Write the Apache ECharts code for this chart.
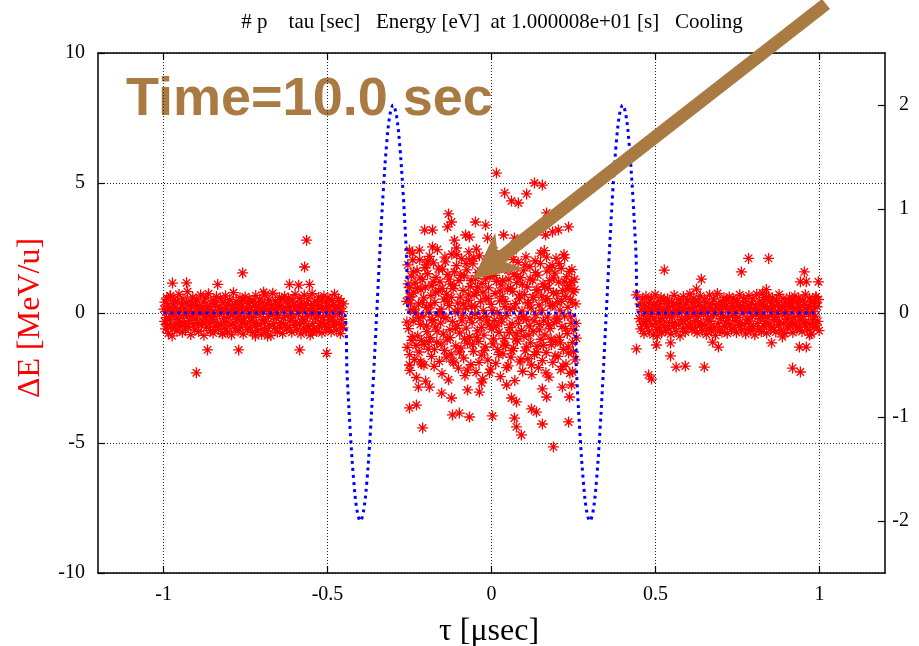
<!DOCTYPE html>
<html>
<head>
<meta charset="utf-8">
<script src="https://cdn.jsdelivr.net/npm/echarts@6/dist/echarts.min.js"></script>
<style>html,body{margin:0;padding:0;background:#fff;}#chart{width:919px;height:646px;}</style>
</head>
<body>
<div id="chart"></div>
<script>
// ---- tick labels ----
const xTicks = [-1, -0.5, 0, 0.5, 1];
const yLeftTicks = [-10, -5, 0, 5, 10];
const yRightTicks = [-2, -1, 0, 1, 2];

// ---- particles outside the RF pulses (tau [usec], dE [MeV/u]) ----
const leftBand = [
[-0.999,0.15],[-0.997,-0.32],[-0.996,0.42],[-0.994,-0.61],[-0.993,0.05],[-0.991,-0.18],[-0.990,0.58],[-0.988,-0.45],[-0.987,0.27],[-0.985,-0.78],
[-0.983,0.11],[-0.981,-0.26],[-0.979,0.66],[-0.978,-0.53],[-0.976,-0.02],[-0.974,-0.88],[-0.972,0.36],[-0.970,-0.12],[-0.969,0.49],[-0.967,-0.57],
[-0.965,0.21],[-0.963,-0.39],[-0.961,0.03],[-0.959,-0.69],[-0.957,0.44],[-0.955,-0.21],[-0.953,0.72],[-0.951,-0.48],[-0.949,0.09],[-0.947,-0.33],
[-0.945,0.31],[-0.943,-0.74],[-0.941,0.54],[-0.939,-0.07],[-0.937,-0.41],[-0.935,0.18],[-0.933,-0.62],[-0.931,0.39],[-0.929,-0.15],[-0.927,0.82],
[-0.925,-0.52],[-0.923,0.06],[-0.921,-0.29],[-0.919,0.47],[-0.917,-0.83],[-0.915,0.24],[-0.913,-0.11],[-0.911,0.61],[-0.909,-0.44],[-0.907,0.01],
[-0.905,-0.66],[-0.903,0.33],[-0.901,-0.23],[-0.899,0.52],[-0.897,-0.37],[-0.895,0.12],[-0.893,-0.71],[-0.891,0.28],[-0.889,-0.05],[-0.887,0.69],
[-0.885,-0.48],[-0.883,0.16],[-0.881,-0.31],[-0.879,0.43],[-0.877,-0.86],[-0.875,0.07],[-0.873,-0.19],[-0.871,0.58],[-0.869,-0.55],[-0.867,0.25],
[-0.865,-0.09],[-0.863,0.74],[-0.861,-0.42],[-0.859,0.14],[-0.857,-0.68],[-0.855,0.38],[-0.853,-0.26],[-0.851,0.02],[-0.849,-0.77],[-0.847,0.49],
[-0.845,-0.14],[-0.843,0.31],[-0.841,-0.51],[-0.839,0.63],[-0.837,-0.36],[-0.835,0.09],[-0.833,-0.63],[-0.831,0.22],[-0.829,-0.03],[-0.827,0.57],
[-0.825,-0.46],[-0.823,0.13],[-0.821,-0.79],[-0.819,0.41],[-0.817,-0.22],[-0.815,0.04],[-0.813,-0.58],[-0.811,0.66],[-0.809,-0.34],[-0.807,0.19],
[-0.805,-0.72],[-0.803,0.35],[-0.801,-0.16],[-0.799,0.51],[-0.797,-0.47],[-0.795,0.08],[-0.793,-0.84],[-0.791,0.27],[-0.789,-0.06],[-0.787,0.78],
[-0.785,-0.39],[-0.783,0.17],[-0.781,-0.61],[-0.779,0.44],[-0.777,-0.24],[-0.775,0.03],[-0.773,-0.69],[-0.771,0.32],[-0.769,-0.13],[-0.767,0.59],
[-0.765,-0.53],[-0.763,0.23],[-0.761,-0.35],[-0.759,0.48],[-0.757,-0.81],[-0.755,0.1],[-0.753,-0.2],[-0.751,0.62],[-0.749,-0.43],[-0.747,0.15],
[-0.745,-0.64],[-0.743,0.37],[-0.741,-0.08],[-0.739,0.55],[-0.737,-0.57],[-0.735,0.21],[-0.733,-0.3],[-0.731,0.05],[-0.729,-0.75],[-0.727,0.45],
[-0.725,-0.17],[-0.723,0.29],[-0.721,-0.49],[-0.719,0.67],[-0.717,-0.38],[-0.715,0.11],[-0.713,-0.67],[-0.711,0.26],[-0.709,-0.04],[-0.707,0.53],
[-0.705,-0.45],[-0.703,0.14],[-0.701,-0.82],[-0.699,0.4],[-0.697,-0.25],[-0.695,0.06],[-0.693,-0.6],[-0.691,0.7],[-0.689,-0.33],[-0.687,0.2],
[-0.685,-0.7],[-0.683,0.34],[-0.681,-0.14],[-0.679,0.5],[-0.677,-0.5],[-0.675,0.09],[-0.673,-0.87],[-0.671,0.3],[-0.669,-0.07],[-0.667,0.76],
[-0.665,-0.41],[-0.663,0.18],[-0.661,-0.59],[-0.659,0.46],[-0.657,-0.21],[-0.655,0.02],[-0.653,-0.73],[-0.651,0.33],[-0.649,-0.1],[-0.647,0.6],
[-0.645,-0.54],[-0.643,0.24],[-0.641,-0.37],[-0.639,0.52],[-0.637,-0.78],[-0.635,0.12],[-0.633,-0.18],[-0.631,0.64],[-0.629,-0.46],[-0.627,0.16],
[-0.625,-0.62],[-0.623,0.39],[-0.621,-0.09],[-0.619,0.57],[-0.617,-0.56],[-0.615,0.22],[-0.613,-0.28],[-0.611,0.07],[-0.609,-0.74],[-0.607,0.47],
[-0.605,-0.15],[-0.603,0.31],[-0.601,-0.47],[-0.599,0.71],[-0.597,-0.36],[-0.595,0.13],[-0.593,-0.65],[-0.591,0.28],[-0.589,-0.02],[-0.587,0.56],
[-0.585,-0.43],[-0.583,0.19],[-0.581,-0.8],[-0.579,0.42],[-0.577,-0.23],[-0.575,0.08],[-0.573,-0.58],[-0.571,0.68],[-0.569,-0.31],[-0.567,0.21],
[-0.565,-0.69],[-0.563,0.36],[-0.561,-0.12],[-0.559,0.54],[-0.557,-0.52],[-0.555,0.1],[-0.553,-0.85],[-0.551,0.29],[-0.549,-0.05],[-0.547,0.74],
[-0.545,-0.4],[-0.543,0.17],[-0.541,-0.6],[-0.539,0.45],[-0.537,-0.2],[-0.535,0.04],[-0.533,-0.71],[-0.531,0.34],[-0.529,-0.11],[-0.527,0.61],
[-0.525,-0.5],[-0.523,0.25],[-0.521,-0.34],[-0.519,0.5],[-0.517,-0.76],[-0.515,0.14],[-0.513,-0.17],[-0.511,0.65],[-0.509,-0.44],[-0.507,0.18],
[-0.505,-0.63],[-0.503,0.4],[-0.501,-0.08],[-0.499,0.58],[-0.497,-0.55],[-0.495,0.23],[-0.493,-0.27],[-0.491,0.06],[-0.489,-0.72],[-0.487,0.48],
[-0.485,-0.16],[-0.483,0.32],[-0.481,-0.45],[-0.479,0.72],[-0.477,-0.37],[-0.475,0.12],[-0.473,-0.66],[-0.471,0.27],[-0.469,-0.03],[-0.467,0.55],
[-0.465,-0.42],[-0.463,0.2],[-0.461,-0.79],[-0.459,0.43],[-0.457,-0.24],[-0.455,0.05],[-0.453,-0.57],[-0.451,0.35]
];
const leftOutliers = [
[-0.564,2.8],[-0.570,1.77],[-0.759,1.54],[-0.973,1.15],[-0.93,1.16],[-0.835,1.1],[-0.616,1.1],[-0.588,1.07],[-0.555,1.1],
[-0.695,0.8],[-0.98,0.65],[-0.866,-1.42],[-0.771,-1.42],[-0.585,-1.42],[-0.503,-1.55],[-0.9,-2.3],[-0.546,-0.73],
[-0.457,-0.46],[-0.683,-0.88],[-0.72,-0.88],[-0.82,-0.8]
];
const rightBand = [
[0.451,-0.22],[0.453,0.35],[0.455,-0.61],[0.457,0.12],[0.459,-0.44],[0.461,0.53],[0.463,-0.08],[0.465,-0.79],[0.467,0.27],[0.469,-0.33],
[0.471,0.64],[0.473,-0.52],[0.475,0.04],[0.477,-0.27],[0.479,0.41],[0.481,-0.7],[0.483,0.18],[0.485,-0.13],[0.487,0.57],[0.489,-0.46],
[0.491,0.09],[0.493,-0.84],[0.495,0.32],[0.497,-0.19],[0.499,0.7],[0.501,-0.39],[0.503,0.15],[0.505,-0.63],[0.507,0.44],[0.509,-0.05],
[0.511,-0.55],[0.513,0.24],[0.515,-0.31],[0.517,0.6],[0.519,-0.76],[0.521,0.07],[0.523,-0.21],[0.525,0.49],[0.527,-0.48],[0.529,0.13],
[0.531,-0.67],[0.533,0.37],[0.535,-0.1],[0.537,0.55],[0.539,-0.58],[0.541,0.2],[0.543,-0.36],[0.545,0.02],[0.547,-0.81],[0.549,0.42],
[0.551,-0.16],[0.553,0.29],[0.555,-0.5],[0.557,0.68],[0.559,-0.4],[0.561,0.1],[0.563,-0.71],[0.565,0.31],[0.567,-0.03],[0.569,0.52],
[0.571,-0.45],[0.573,0.16],[0.575,-0.88],[0.577,0.39],[0.579,-0.25],[0.581,0.06],[0.583,-0.6],[0.585,0.63],[0.587,-0.34],[0.589,0.22],
[0.591,-0.73],[0.593,0.34],[0.595,-0.12],[0.597,0.5],[0.599,-0.53],[0.601,0.11],[0.603,-0.2],[0.605,0.73],[0.607,-0.43],[0.609,0.17],
[0.611,-0.65],[0.613,0.4],[0.615,-0.06],[0.617,0.56],[0.619,-0.56],[0.621,0.23],[0.623,-0.29],[0.625,0.03],[0.627,-0.77],[0.629,0.46],
[0.631,-0.14],[0.633,0.3],[0.635,-0.49],[0.637,0.66],[0.639,-0.38],[0.641,0.12],[0.643,-0.68],[0.645,0.25],[0.647,-0.02],[0.649,0.54],
[0.651,-0.47],[0.653,0.15],[0.655,-0.82],[0.657,0.41],[0.659,-0.23],[0.661,0.05],[0.663,-0.59],[0.665,0.69],[0.667,-0.32],[0.669,0.2],
[0.671,-0.7],[0.673,0.36],[0.675,-0.11],[0.677,0.53],[0.679,-0.54],[0.681,0.1],[0.683,-0.86],[0.685,0.28],[0.687,-0.04],[0.689,0.75],
[0.691,-0.41],[0.693,0.18],[0.695,-0.62],[0.697,0.44],[0.699,-0.22],[0.701,0.03],[0.703,-0.74],[0.705,0.33],[0.707,-0.13],[0.709,0.59],
[0.711,-0.51],[0.713,0.24],[0.715,-0.35],[0.717,0.49],[0.719,-0.78],[0.721,0.14],[0.723,-0.18],[0.725,0.62],[0.727,-0.45],[0.729,0.17],
[0.731,-0.64],[0.733,0.38],[0.735,-0.09],[0.737,0.57],[0.739,-0.57],[0.741,0.21],[0.743,-0.28],[0.745,0.08],[0.747,-0.75],[0.749,0.47],
[0.751,-0.17],[0.753,0.31],[0.755,-0.48],[0.757,0.7],[0.759,-0.37],[0.761,0.13],[0.763,-0.66],[0.765,0.27],[0.767,-0.01],[0.769,0.56],
[0.771,-0.44],[0.773,0.19],[0.775,-0.8],[0.777,0.43],[0.779,-0.24],[0.781,0.07],[0.783,-0.58],[0.785,0.67],[0.787,-0.31],[0.789,0.22],
[0.791,-0.69],[0.793,0.35],[0.795,-0.12],[0.797,0.54],[0.799,-0.52],[0.801,0.11],[0.803,-0.84],[0.805,0.29],[0.807,-0.06],[0.809,0.72],
[0.811,-0.4],[0.813,0.16],[0.815,-0.61],[0.817,0.45],[0.819,-0.21],[0.821,0.04],[0.823,-0.72],[0.825,0.34],[0.827,-0.1],[0.829,0.6],
[0.831,-0.5],[0.833,0.25],[0.835,-0.33],[0.837,0.51],[0.839,-0.77],[0.841,0.15],[0.843,-0.16],[0.845,0.64],[0.847,-0.43],[0.849,0.18],
[0.851,-0.63],[0.853,0.39],[0.855,-0.07],[0.857,0.58],[0.859,-0.55],[0.861,0.22],[0.863,-0.26],[0.865,0.06],[0.867,-0.73],[0.869,0.48],
[0.871,-0.15],[0.873,0.32],[0.875,-0.46],[0.877,0.71],[0.879,-0.36],[0.881,0.12],[0.883,-0.67],[0.885,0.26],[0.887,-0.03],[0.889,0.55],
[0.891,-0.42],[0.893,0.2],[0.895,-0.79],[0.897,0.42],[0.899,-0.23],[0.901,0.06],[0.903,-0.57],[0.905,0.36],[0.907,-0.11],[0.909,0.61],
[0.911,-0.49],[0.913,0.23],[0.915,-0.34],[0.917,0.5],[0.919,-0.75],[0.921,0.14],[0.923,-0.19],[0.925,0.65],[0.927,-0.44],[0.929,0.17],
[0.931,-0.62],[0.933,0.4],[0.935,-0.08],[0.937,0.57],[0.939,-0.54],[0.941,0.21],[0.943,-0.27],[0.945,0.07],[0.947,-0.71],[0.949,0.47],
[0.951,-0.14],[0.953,0.33],[0.955,-0.45],[0.957,0.7],[0.959,-0.38],[0.961,0.13],[0.963,-0.65],[0.965,0.28],[0.967,-0.02],[0.969,0.57],
[0.971,-0.43],[0.973,0.19],[0.975,-0.8],[0.977,0.44],[0.979,-0.25],[0.981,0.05],[0.983,-0.56],[0.985,0.37],[0.987,-0.12],[0.989,0.62],
[0.991,-0.47],[0.993,0.24],[0.995,-0.32],[0.997,0.52],[0.999,-0.68]
];
const rightOutliers = [
[0.784,2.1],[0.845,2.1],[0.527,1.65],[0.762,1.58],[0.954,1.58],[0.64,1.3],[0.942,1.2],[0.96,1.2],[0.997,1.2],
[0.625,0.92],[0.838,0.9],[0.827,0.77],[0.442,0.7],[0.99,0.62],[0.912,0.38],[0.442,-1.38],[0.503,-1.23],[0.546,-1.15],
[0.546,-1.65],[0.563,-2.08],[0.591,-2.04],[0.649,-2.08],[0.674,-1.12],[0.692,-1.31],[0.854,-1.15],[0.887,-0.92],
[0.918,-2.12],[0.942,-2.27],[0.939,-1.31],[0.96,-1.31],[0.479,-2.38],[0.488,-2.54],[0.97,-0.85],[0.506,-0.88]
];
// ---- particles inside the bucket ----
const centerCore = [
[-0.259,0.45],[-0.257,-1.32],[-0.255,1.85],[-0.253,-0.6],[-0.251,0.98],[-0.249,-2.21],[-0.247,0.12],[-0.245,1.42],[-0.243,-1.05],[-0.241,2.3],
[-0.239,-0.31],[-0.237,0.77],[-0.235,-1.78],[-0.233,1.16],[-0.231,-0.02],[-0.229,-2.48],[-0.227,1.63],[-0.225,-0.88],[-0.223,0.35],[-0.221,-1.5],
[-0.219,2.05],[-0.217,-0.44],[-0.215,0.9],[-0.213,-1.96],[-0.211,1.28],[-0.209,-0.15],[-0.207,0.58],[-0.205,-1.21],[-0.203,1.74],[-0.201,-2.62],
[-0.199,0.21],[-0.197,-0.72],[-0.195,1.51],[-0.193,-1.39],[-0.191,0.03],[-0.189,2.18],[-0.187,-0.95],[-0.185,0.67],[-0.183,-1.67],[-0.181,1.05],
[-0.179,-0.26],[-0.177,1.93],[-0.175,-2.05],[-0.173,0.41],[-0.171,-0.54],[-0.169,1.37],[-0.167,-1.12],[-0.165,2.44],[-0.163,-0.08],[-0.161,0.84],
[-0.159,-1.86],[-0.157,1.2],[-0.155,-0.39],[-0.153,0.15],[-0.151,-2.33],[-0.149,1.69],[-0.147,-0.81],[-0.145,0.53],[-0.143,-1.44],[-0.141,1.97],
[-0.139,-0.18],[-0.137,0.72],[-0.135,-1.03],[-0.133,1.48],[-0.131,-2.57],[-0.129,0.29],[-0.127,-0.64],[-0.125,1.11],[-0.123,-1.58],[-0.121,2.26],
[-0.119,-0.33],[-0.117,0.94],[-0.115,-1.91],[-0.113,1.58],[-0.111,0.06],[-0.109,-1.27],[-0.107,1.82],[-0.105,-0.48],[-0.103,0.38],[-0.101,-2.12],
[-0.099,1.25],[-0.097,-0.77],[-0.095,0.61],[-0.093,-1.35],[-0.091,2.09],[-0.089,-0.11],[-0.087,0.87],[-0.085,-1.73],[-0.083,1.43],[-0.081,-2.41],
[-0.079,0.18],[-0.077,-0.58],[-0.075,1.66],[-0.073,-1.16],[-0.071,0.49],[-0.069,2.35],[-0.067,-0.92],[-0.065,1.02],[-0.063,-1.99],[-0.061,0.26],
[-0.059,-0.37],[-0.057,1.89],[-0.055,-1.48],[-0.053,0.69],[-0.051,-0.05],[-0.049,1.33],[-0.047,-2.28],[-0.045,0.8],[-0.043,-0.69],[-0.041,1.55],
[-0.039,-1.09],[-0.037,2.2],[-0.035,-0.21],[-0.033,0.44],[-0.031,-1.62],[-0.029,1.14],[-0.027,-2.53],[-0.025,0.09],[-0.023,-0.85],[-0.021,1.76],
[-0.019,-1.3],[-0.017,0.56],[-0.015,-0.13],[-0.013,2.02],[-0.011,-1.81],[-0.009,0.97],[-0.007,-0.46],[-0.005,1.4],[-0.003,-2.16],[-0.001,0.33],
[0.001,-0.62],[0.003,1.59],[0.005,-1.19],[0.007,2.38],[0.009,-0.28],[0.011,0.75],[0.013,-1.94],[0.015,1.22],[0.017,0.02],[0.019,-1.41],
[0.021,1.86],[0.023,-0.74],[0.025,0.47],[0.027,-2.45],[0.029,1.08],[0.031,-0.35],[0.033,0.63],[0.035,-1.57],[0.037,2.13],[0.039,-0.98],
[0.041,0.24],[0.043,-1.25],[0.045,1.71],[0.047,-0.1],[0.049,0.92],[0.051,-2.03],[0.053,1.3],[0.055,-0.56],[0.057,0.14],[0.059,-1.7],
[0.061,2.28],[0.063,-0.42],[0.065,0.83],[0.067,-1.36],[0.069,1.5],[0.071,-2.6],[0.073,0.37],[0.075,-0.8],[0.077,1.17],[0.079,-1.08],
[0.081,1.95],[0.083,-0.19],[0.085,0.54],[0.087,-1.88],[0.089,1.36],[0.091,-0.67],[0.093,0.07],[0.095,-2.24],[0.097,1.62],[0.099,-0.9],
[0.101,0.71],[0.103,-1.46],[0.105,2.16],[0.107,-0.25],[0.109,1.0],[0.111,-1.76],[0.113,0.4],[0.115,-0.5],[0.117,1.78],[0.119,-1.15],
[0.121,0.19],[0.123,-2.37],[0.125,1.27],[0.127,-0.71],[0.129,0.6],[0.131,-1.6],[0.133,2.0],[0.135,-0.07],[0.137,0.88],[0.139,-1.28],
[0.141,1.46],[0.143,-2.1],[0.145,0.31],[0.147,-0.45],[0.149,1.9],[0.151,-1.01],[0.153,0.66],[0.155,-1.83],[0.157,1.12],[0.159,-0.3],
[0.161,2.4],[0.163,-0.84],[0.165,0.5],[0.167,-1.52],[0.169,1.61],[0.171,-0.16],[0.173,0.95],[0.175,-2.47],[0.177,1.24],[0.179,-0.6],
[0.181,0.27],[0.183,-1.22],[0.185,1.81],[0.187,-1.9],[0.189,0.78],[0.191,-0.38],[0.193,1.53],[0.195,-1.1],[0.197,2.1],[0.199,-0.23],
[0.201,0.43],[0.203,-1.67],[0.205,1.19],[0.207,-0.94],[0.209,0.11],[0.211,-2.18],[0.213,1.72],[0.215,-0.52],[0.217,0.86],[0.219,-1.4],
[0.221,2.25],[0.223,-0.12],[0.225,0.64],[0.227,-1.97],[0.229,1.39],[0.231,-0.79],[0.233,0.22],[0.235,-1.54],[0.237,1.06],[0.239,-2.32],
[0.241,0.52],[0.243,-0.4],[0.245,1.67],[0.247,-1.14],[0.249,0.81],[0.251,-0.66],[0.253,1.3],[0.255,-1.8],[0.257,0.35],[0.259,-0.97]
];
const centerCore2 = [
[-0.258,-0.35],[-0.254,1.12],[-0.25,-1.6],[-0.246,0.62],[-0.242,-0.9],[-0.238,1.58],[-0.234,0.15],[-0.23,-1.25],[-0.226,0.95],[-0.222,-0.18],
[-0.218,1.35],[-0.214,-1.05],[-0.21,0.4],[-0.206,-2.0],[-0.202,1.0],[-0.198,-0.5],[-0.194,2.0],[-0.19,-1.1],[-0.186,0.3],[-0.182,-0.3],
[-0.178,1.2],[-0.174,-1.4],[-0.17,0.8],[-0.166,-0.7],[-0.162,1.7],[-0.158,0.05],[-0.154,-1.2],[-0.15,0.95],[-0.146,-0.15],[-0.142,2.15],
[-0.138,-1.7],[-0.134,0.45],[-0.13,1.3],[-0.126,-0.95],[-0.122,0.6],[-0.118,-1.85],[-0.114,1.05],[-0.11,-0.6],[-0.106,2.25],[-0.102,0.12],
[-0.098,-1.5],[-0.094,1.45],[-0.09,-0.3],[-0.086,0.35],[-0.082,-1.0],[-0.078,1.9],[-0.074,-2.2],[-0.07,0.7],[-0.066,-0.2],[-0.062,1.25],
[-0.058,-1.2],[-0.054,2.1],[-0.05,0.25],[-0.046,-0.95],[-0.042,1.0],[-0.038,-1.9],[-0.034,1.6],[-0.03,-0.55],[-0.026,0.8],[-0.022,-1.45],
[-0.018,1.3],[-0.014,-0.3],[-0.01,0.55],[-0.006,-2.3],[-0.002,1.75],[0.002,0.1],[0.006,-1.0],[0.01,1.45],[0.014,-0.5],[0.018,2.2],
[0.022,-1.6],[0.026,0.85],[0.03,-0.2],[0.034,1.25],[0.038,-1.2],[0.042,0.45],[0.046,-2.1],[0.05,1.65],[0.054,-0.75],[0.058,0.95],
[0.062,-1.45],[0.066,2.05],[0.07,0.2],[0.074,-1.0],[0.078,1.4],[0.082,-0.4],[0.086,0.7],[0.09,-1.8],[0.094,1.1],[0.098,-0.15],
[0.102,1.85],[0.106,-1.3],[0.11,0.35],[0.114,-0.85],[0.118,1.3],[0.122,-2.0],[0.126,0.6],[0.13,-0.3],[0.134,1.55],[0.138,-1.5],
[0.142,0.9],[0.146,-0.65],[0.15,2.3],[0.154,0.1],[0.158,-1.25],[0.162,1.0],[0.166,-2.3],[0.17,0.55],[0.174,-0.45],[0.178,1.75],
[0.182,-1.0],[0.186,0.3],[0.19,1.35],[0.194,-1.65],[0.198,0.75],[0.202,-0.2],[0.206,1.9],[0.21,-1.15],[0.214,0.45],[0.218,-2.05],
[0.222,1.2],[0.226,-0.6],[0.23,0.95],[0.234,-1.3],[0.238,1.6],[0.242,-0.15],[0.246,0.4],[0.25,-1.5],[0.254,0.9],[0.258,-0.4]
];
const centerOutliers = [
[0.015,5.38],[0.131,5.0],[0.155,4.92],[0.04,4.62],[0.107,4.58],[0.061,4.31],[0.082,4.23],[-0.131,3.81],[-0.122,3.5],
[0.168,3.85],[-0.049,3.5],[-0.018,3.38],[-0.134,3.31],[-0.204,3.19],[-0.18,3.19],[-0.079,3.0],[-0.067,2.92],[0.235,3.31],
[0.204,3.19],[0.186,3.12],[0.165,3.0],[-0.113,2.8],[-0.18,2.54],[-0.22,2.42],[-0.046,2.46],[-0.012,2.88],[0.037,3.0],
[0.07,2.88],[-0.25,2.42],[-0.24,2.04],[-0.198,1.85],[-0.107,2.5],[-0.067,2.04],[0.168,2.15],[0.223,2.12],[0.244,1.19],
[-0.25,0.62],[-0.247,0.38],
[0.189,-5.15],[0.091,-4.69],[0.076,-4.38],[0.07,-4.04],[0.155,-4.27],[0.235,-4.19],[-0.21,-4.42],[-0.119,-3.92],[-0.098,-3.85],
[-0.067,-4.0],[0.003,-3.96],[-0.25,-3.65],[-0.229,-3.54],[0.122,-3.69],[0.137,-3.81],[0.061,-3.27],[0.076,-3.42],[0.168,-3.23],
[0.155,-2.92],[0.238,-3.23],[0.216,-2.85],[-0.223,-2.85],[-0.189,-2.85],[-0.152,-3.08],[-0.122,-3.27],[-0.073,-2.96],[-0.037,-3.04],
[-0.03,-2.69],[0.046,-2.77],[-0.25,-2.0],[-0.216,-1.88],[0.247,-2.27],[0.244,-2.77]
];

// ---- RF voltage (right axis) ----
const rfTau = [-1, -0.45,-0.44,-0.43,-0.42,-0.41,-0.40,-0.39,-0.38,-0.37,-0.36,-0.35,-0.34,-0.33,-0.32,-0.31,-0.30,-0.29,-0.28,-0.27,-0.26,-0.25,
               0.25,0.26,0.27,0.28,0.29,0.30,0.31,0.32,0.33,0.34,0.35,0.36,0.37,0.38,0.39,0.40,0.41,0.42,0.43,0.44,0.45, 1];
const rfVolt = [0, 0,-0.618,-1.176,-1.618,-1.902,-2,-1.902,-1.618,-1.176,-0.618,0,0.618,1.176,1.618,1.902,2,1.902,1.618,1.176,0.618,0,
                0,-0.618,-1.176,-1.618,-1.902,-2,-1.902,-1.618,-1.176,-0.618,0,0.618,1.176,1.618,1.902,2,1.902,1.618,1.176,0.618,0, 0];

const titleText = '# p    tau [sec]   Energy [eV]  at 1.000008e+01 [s]   Cooling';
const annotText = 'Time=10.0 sec';
const xName = 'τ [μsec]';
const yName = 'ΔE [MeV/u]';

const particles = leftBand.concat(leftOutliers, centerCore, centerCore2, centerOutliers, rightBand, rightOutliers);
const rfData = rfTau.map((t, i) => [t, rfVolt[i]]);

const serif = '"Liberation Serif", "DejaVu Serif", serif';
const brown = '#A97A42';
const asterisk = 'path://M0,5L10,5M5,0L5,10M1.6,1.6L8.4,8.4M1.6,8.4L8.4,1.6';

const chart = echarts.init(document.getElementById('chart'), null, {renderer: 'canvas'});
const dotted = {type: [1, 2], color: '#222', width: 1};
chart.setOption({
  animation: false,
  backgroundColor: '#fff',
  grid: {left: 98, right: 34, top: 53, bottom: 73, containLabel: false},
  xAxis: [{
    type: 'value', min: -1.2, max: 1.2, position: 'bottom',
    axisLine: {show: true, onZero: false, lineStyle: {color: '#000', width: 1.5}},
    axisTick: {show: true, inside: true, length: 7, customValues: xTicks, lineStyle: {color: '#000', width: 1.2}},
    axisLabel: {customValues: xTicks, fontFamily: serif, fontSize: 20, color: '#000', margin: 12},
    splitLine: {show: true, lineStyle: dotted}
  }, {
    type: 'value', min: -1.2, max: 1.2, position: 'top',
    axisLine: {show: true, onZero: false, lineStyle: {color: '#000', width: 1.5}},
    axisTick: {show: true, inside: true, length: 7, customValues: xTicks, lineStyle: {color: '#000', width: 1.2}},
    axisLabel: {show: false},
    splitLine: {show: false}
  }],
  yAxis: [{
    type: 'value', min: -10, max: 10, interval: 5, position: 'left',
    axisLine: {show: true, onZero: false, lineStyle: {color: '#000', width: 1.5}},
    axisTick: {show: true, inside: true, length: 7, lineStyle: {color: '#000', width: 1.2}},
    axisLabel: {fontFamily: serif, fontSize: 20, color: '#000', margin: 13},
    splitLine: {show: true, lineStyle: dotted}
  }, {
    type: 'value', min: -2.5, max: 2.5, position: 'right',
    axisLine: {show: true, onZero: false, lineStyle: {color: '#000', width: 1.5}},
    axisTick: {show: true, inside: true, length: 7, customValues: yRightTicks, lineStyle: {color: '#000', width: 1.2}},
    axisLabel: {customValues: yRightTicks, fontFamily: serif, fontSize: 20, color: '#000', margin: 24, align: 'right'},
    splitLine: {show: false}
  }],
  series: [{
    type: 'scatter', xAxisIndex: 0, yAxisIndex: 0,
    data: particles,
    symbol: asterisk, symbolSize: 11,
    itemStyle: {color: 'rgba(0,0,0,0)', borderColor: '#ff0000', borderWidth: 1.3, opacity: 1},
    z: 2
  }, {
    type: 'line', xAxisIndex: 0, yAxisIndex: 1,
    data: rfData, showSymbol: false, symbol: 'none', smooth: 0.35,
    lineStyle: {color: '#0000ff', width: 3, type: [3, 4]},
    z: 3
  }],
  graphic: [
    {type: 'text', z: -1, style: {x: 126, y: 100, text: annotText, font: 'bold 54px "Liberation Sans", Arial, sans-serif', fill: brown, stroke: 'rgba(255,255,255,0.7)', lineWidth: 1, textAlign: 'left', textVerticalAlign: 'middle'}},
    {type: 'text', z: 10, style: {x: 492, y: 22, text: titleText, font: '21px ' + serif, fill: '#000', textAlign: 'center', textVerticalAlign: 'middle'}},
    {type: 'text', z: 10, style: {x: 489, y: 632, text: xName, font: '32px ' + serif, fill: '#000', textAlign: 'center', textVerticalAlign: 'middle'}},
    {type: 'text', z: 10, x: 31, y: 318, rotation: Math.PI / 2, style: {x: 0, y: 0, text: yName, font: '32px ' + serif, fill: '#ff0000', textAlign: 'center', textVerticalAlign: 'middle'}},
    {type: 'polygon', z: 100, shape: {points: [[473, 279], [523.4, 268.9], [505.4, 262.0], [830, 9.1], [822, -1.1], [497.4, 251.8], [495.2, 232.7]]}, style: {fill: brown}}
  ]
});
</script>
</body>
</html>
